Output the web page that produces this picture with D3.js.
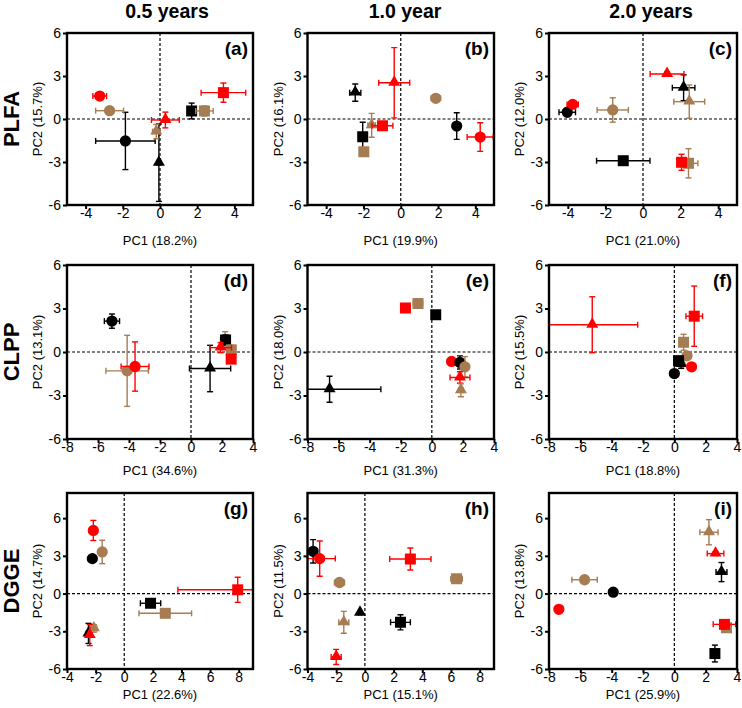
<!DOCTYPE html>
<html><head><meta charset="utf-8">
<script src="https://cdn.jsdelivr.net/npm/d3@7"></script>
<style>
body{margin:0;background:#fff}
text{font-family:"Liberation Sans",Arial,sans-serif;fill:#000}
</style>
</head><body>
<svg id="chart" width="742" height="708"></svg>
<script>
// ---------- DATA ----------
// each point: [colour group, shape group, PC1, PC2, PC1 error, PC2 error]
const colTitles = ["0.5 years", "1.0 year", "2.0 years"];
const rowNames = ["PLFA", "CLPP", "DGGE"];
const panelLetters = ["(a)", "(b)", "(c)", "(d)", "(e)", "(f)", "(g)", "(h)", "(i)"];
const pc1Labels = ["PC1 (18.2%)", "PC1 (19.9%)", "PC1 (21.0%)", "PC1 (34.6%)", "PC1 (31.3%)", "PC1 (18.8%)", "PC1 (22.6%)", "PC1 (15.1%)", "PC1 (25.9%)"];
const pc2Labels = ["PC2 (15.7%)", "PC2 (16.1%)", "PC2 (12.0%)", "PC2 (13.1%)", "PC2 (18.0%)", "PC2 (15.5%)", "PC2 (14.7%)", "PC2 (11.5%)", "PC2 (13.8%)"];
const xDomains = [[-5, 5], [-5, 5], [-5, 5], [-8, 4], [-8, 4], [-8, 4], [-4, 9], [-4, 9], [-8, 4]];
const yDomains = [[-6, 6], [-6, 6], [-6, 6], [-6, 6], [-6, 6], [-6, 6], [-6, 8], [-6, 8], [-6, 8]];
const xTickSets = [[-4, -2, 0, 2, 4], [-4, -2, 0, 2, 4], [-4, -2, 0, 2, 4],
  [-8, -6, -4, -2, 0, 2, 4], [-8, -6, -4, -2, 0, 2, 4], [-8, -6, -4, -2, 0, 2, 4],
  [-4, -2, 0, 2, 4, 6, 8], [-4, -2, 0, 2, 4, 6, 8], [-8, -6, -4, -2, 0, 2, 4]];
const yTickValues = [-6, -3, 0, 3, 6];

const panelA = [
  ["k", "t", -0.06, -3.05, 0.1, 2.7],
  ["k", "o", -1.86, -1.53, 1.6, 2.0],
  ["k", "s", 1.70, 0.56, 0.15, 0.55],
  ["b", "o", -2.71, 0.58, 0.75, 0.2],
  ["b", "t", -0.2, -0.88, 0.2, 0.5],
  ["b", "s", 2.39, 0.56, 0.47, 0.35],
  ["r", "o", -3.24, 1.6, 0.37, 0.2],
  ["r", "t", 0.29, -0.07, 0.75, 0.55],
  ["r", "s", 3.41, 1.84, 1.2, 0.67]
];
const panelB = [
  ["k", "t", -2.44, 1.84, 0.3, 0.6],
  ["k", "s", -2.04, -1.23, 0.1, 1.0],
  ["k", "o", 3.0, -0.49, 0.1, 0.93],
  ["b", "o", 1.88, 1.44, 0.25, 0.15],
  ["b", "t", -1.56, -0.44, 0.2, 0.83],
  ["b", "s", -1.98, -2.28, 0.1, 0.15],
  ["r", "t", -0.35, 2.53, 0.83, 2.45],
  ["r", "s", -0.98, -0.47, 0.56, 0.2],
  ["r", "o", 4.26, -1.26, 0.7, 1.0]
];
const panelC = [
  ["k", "t", 2.16, 2.18, 0.6, 0.9],
  ["k", "o", -4.03, 0.47, 0.44, 0.15],
  ["k", "s", -1.05, -2.91, 1.42, 0.15],
  ["b", "t", 2.46, 1.21, 0.82, 1.16],
  ["b", "o", -1.61, 0.63, 0.83, 0.85],
  ["b", "s", 2.42, -3.09, 0.5, 1.02],
  ["r", "t", 1.28, 3.14, 0.9, 0.15],
  ["r", "o", -3.74, 1.02, 0.3, 0.2],
  ["r", "s", 2.05, -3.02, 0.2, 0.56]
];
const panelD = [
  ["k", "o", -5.1, 2.13, 0.49, 0.49],
  ["k", "t", 1.23, -1.14, 1.33, 1.6],
  ["b", "o", -4.12, -1.3, 1.37, 2.45],
  ["b", "t", 2.2, 0.8, 0.3, 0.6],
  ["k", "s", 2.23, 0.83, 0.3, 0.35],
  ["b", "s", 2.6, 0.15, 0.2, 0.3],
  ["r", "o", -3.61, -1.0, 0.9, 1.7],
  ["r", "t", 1.91, 0.3, 0.7, 0.35],
  ["r", "s", 2.59, -0.49, 0.15, 0.2]
];
const panelE = [
  ["k", "t", -6.58, -2.57, 3.3, 0.9],
  ["k", "s", 0.25, 2.57, 0.1, 0.1],
  ["b", "s", -0.89, 3.34, 0.3, 0.2],
  ["r", "s", -1.7, 3.03, 0.3, 0.15],
  ["r", "o", 1.27, -0.65, 0.25, 0.15],
  ["k", "o", 1.81, -0.72, 0.15, 0.45],
  ["b", "o", 2.13, -1.02, 0.15, 0.7],
  ["r", "t", 1.81, -1.76, 0.64, 0.4],
  ["b", "t", 1.87, -2.64, 0.15, 0.45]
];
const panelF = [
  ["r", "t", -5.24, 1.88, 2.9, 1.93],
  ["r", "s", 1.27, 2.47, 0.53, 2.08],
  ["b", "s", 0.59, 0.67, 0.15, 0.55],
  ["b", "o", 0.81, -0.26, 0.15, 0.2],
  ["b", "t", 0.45, -0.8, 0.2, 0.3],
  ["k", "s", 0.27, -0.6, 0.15, 0.3],
  ["k", "t", 0.43, -0.83, 0.15, 0.3],
  ["r", "o", 1.1, -1.02, 0.1, 0.1],
  ["k", "o", 0.0, -1.49, 0.1, 0.1]
];
const panelG = [
  ["k", "o", -2.23, 2.78, 0.1, 0.1],
  ["b", "o", -1.54, 3.31, 0.15, 0.93],
  ["r", "o", -2.16, 5.02, 0.15, 0.8],
  ["k", "s", 1.84, -0.77, 0.71, 0.2],
  ["b", "s", 2.87, -1.57, 1.84, 0.2],
  ["r", "s", 7.93, 0.3, 4.18, 1.0],
  ["k", "t", -2.5, -3.17, 0.15, 0.8],
  ["b", "t", -2.12, -2.77, 0.2, 0.3],
  ["r", "t", -2.41, -3.3, 0.15, 0.84]
];
const panelH = [
  ["k", "o", -3.61, 3.36, 0.3, 0.93],
  ["r", "o", -3.15, 2.78, 1.09, 1.4],
  ["b", "o", -1.77, 0.88, 0.35, 0.2],
  ["r", "s", 3.17, 2.75, 1.44, 0.87],
  ["b", "s", 6.39, 1.18, 0.4, 0.3],
  ["k", "t", -0.34, -1.52, 0.1, 0.1],
  ["b", "t", -1.47, -2.29, 0.35, 0.87],
  ["r", "t", -2.0, -5.04, 0.35, 0.6],
  ["k", "s", 2.48, -2.29, 0.69, 0.6]
];
const panelI = [
  ["b", "t", 2.21, 4.88, 0.58, 1.0],
  ["r", "t", 2.63, 3.18, 0.53, 0.15],
  ["k", "t", 3.01, 1.71, 0.35, 0.76],
  ["b", "o", -5.73, 1.1, 0.81, 0.15],
  ["k", "o", -3.9, 0.11, 0.1, 0.1],
  ["r", "o", -7.37, -1.25, 0.1, 0.1],
  ["b", "s", 3.33, -2.72, 0.3, 0.2],
  ["r", "s", 3.2, -2.45, 0.72, 0.15],
  ["k", "s", 2.59, -4.77, 0.15, 0.67]
];
const panels = [panelA, panelB, panelC, panelD, panelE, panelF, panelG, panelH, panelI];

// ---------- STYLE / LAYOUT ----------
const colorOf = {k: "#000000", b: "#a67c52", r: "#ff0000"};
const symbolOf = {o: d3.symbolCircle, s: d3.symbolSquare, t: d3.symbolTriangle};
const sizeOf = {o: 100, s: 121, t: 62};
const colLeft = [67, 307.5, 549];
const colRight = [253, 494, 737];
const rowTop = [33, 265, 493];
const rowBottom = [205, 439, 669];
const xLabelOffset = [40, 36, 29.5];

const svg = d3.select("#chart");

colTitles.forEach((t, i) => {
  const cx = [167, 405, 651][i];
  svg.append("text").attr("x", cx).attr("y", 18).attr("text-anchor", "middle")
    .attr("font-size", 19.5).attr("font-weight", "bold").text(t);
});
rowNames.forEach((t, i) => {
  const cy = (rowTop[i] + rowBottom[i]) / 2;
  svg.append("text").attr("transform", `translate(19,${cy}) rotate(-90)`)
    .attr("text-anchor", "middle").attr("font-size", 22).attr("font-weight", "bold").text(t);
});

panels.forEach((data, p) => {
  const r = Math.floor(p / 3), c = p % 3;
  const L = colLeft[c], R = colRight[c], T = rowTop[r], B = rowBottom[r];
  const x = d3.scaleLinear().domain(xDomains[p]).range([L, R]);
  const y = d3.scaleLinear().domain(yDomains[p]).range([B, T]);
  const g = svg.append("g");
  const clipId = "clip" + p;
  svg.append("clipPath").attr("id", clipId).append("rect")
    .attr("x", L).attr("y", T).attr("width", R - L).attr("height", B - T);

  // zero lines
  g.append("line").attr("x1", x(0)).attr("x2", x(0)).attr("y1", T).attr("y2", B)
    .attr("stroke", "#000").attr("stroke-width", 1.2).attr("stroke-dasharray", "3,2");
  g.append("line").attr("x1", L).attr("x2", R).attr("y1", y(0)).attr("y2", y(0))
    .attr("stroke", "#000").attr("stroke-width", 1.2).attr("stroke-dasharray", "3,2");

  // points
  const pts = g.append("g").attr("clip-path", `url(#${clipId})`);
  const cap = 3;
  data.forEach(d => {
    const [cg, sh, px, py, ex, ey] = d;
    const col = colorOf[cg];
    const cx = x(px), cy = y(py);
    const gp = pts.append("g").attr("stroke", col).attr("stroke-width", 1.4).attr("fill", "none");
    const x1 = x(px - ex), x2 = x(px + ex), y1 = y(py - ey), y2 = y(py + ey);
    gp.append("line").attr("x1", x1).attr("x2", x2).attr("y1", cy).attr("y2", cy);
    gp.append("line").attr("x1", x1).attr("x2", x1).attr("y1", cy - cap).attr("y2", cy + cap);
    gp.append("line").attr("x1", x2).attr("x2", x2).attr("y1", cy - cap).attr("y2", cy + cap);
    gp.append("line").attr("x1", cx).attr("x2", cx).attr("y1", y1).attr("y2", y2);
    gp.append("line").attr("x1", cx - cap).attr("x2", cx + cap).attr("y1", y1).attr("y2", y1);
    gp.append("line").attr("x1", cx - cap).attr("x2", cx + cap).attr("y1", y2).attr("y2", y2);
    pts.append("path").attr("d", d3.symbol().type(symbolOf[sh]).size(sizeOf[sh])())
      .attr("transform", `translate(${cx},${cy + (sh === "t" ? -0.5 : 0)})`)
      .attr("fill", col);
  });

  // axes
  const xAxis = g.append("g").attr("transform", `translate(0,${B})`)
    .call(d3.axisBottom(x).tickValues(xTickSets[p]).tickSize(4).tickPadding(0).tickFormat(d3.format("d")));
  const yAxis = g.append("g").attr("transform", `translate(${L},0)`)
    .call(d3.axisLeft(y).tickValues(yTickValues).tickSize(4).tickPadding(2).tickFormat(d3.format("d")));
  [xAxis, yAxis].forEach(a => {
    a.select(".domain").remove();
    a.selectAll(".tick line").attr("stroke", "#000").attr("stroke-width", 2);
    a.selectAll(".tick text").attr("font-size", 14).attr("font-family", '"Liberation Sans",Arial,sans-serif')
      .text(d => d < 0 ? "-" + Math.abs(d) : d);
  });
  xAxis.selectAll(".tick text").attr("y", 3);

  // frame
  g.append("rect").attr("x", L).attr("y", T).attr("width", R - L).attr("height", B - T)
    .attr("fill", "none").attr("stroke", "#000").attr("stroke-width", 2.4);

  // panel letter
  g.append("text").attr("x", R - 5).attr("y", T + 22).attr("text-anchor", "end")
    .attr("font-size", 19).attr("font-weight", "bold").text(panelLetters[p]);

  // axis titles
  g.append("text").attr("x", (L + R) / 2).attr("y", B + xLabelOffset[r]).attr("text-anchor", "middle")
    .attr("font-size", 13).text(pc1Labels[p]);
  g.append("text").attr("transform", `translate(${L - 25},${(T + B) / 2}) rotate(-90)`)
    .attr("text-anchor", "middle").attr("font-size", 13).text(pc2Labels[p]);
});
</script>
</body></html>
